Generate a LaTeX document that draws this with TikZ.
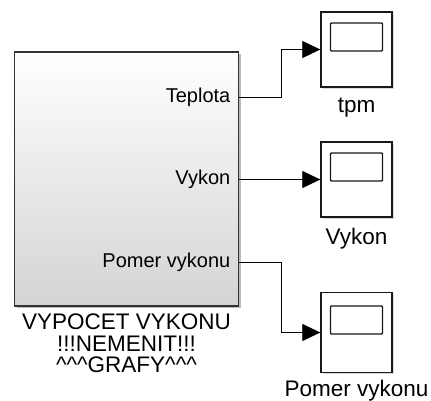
\documentclass[tikz,border=0pt]{standalone}
\usepackage{fontspec}
\setmainfont{Liberation Sans}
\usetikzlibrary{arrows.meta,positioning,shadows}

\begin{document}
\begin{tikzpicture}[
  x=1pt, y=-1pt,
  blk/.style={rectangle, draw=black!80, line width=1.2pt,
    minimum width=224pt, minimum height=254pt, inner sep=0pt,
    top color=white, middle color=white, bottom color=black!17,
    drop shadow={shadow xshift=2pt, shadow yshift=-2pt,
      opacity=0.45, fill=black!60}},
  scopebox/.style={rectangle, draw=black!90, line width=1.4pt,
    fill=white, minimum width=71pt, inner sep=0pt,
    drop shadow={shadow xshift=1.5pt, shadow yshift=-1.5pt,
      opacity=0.3, fill=black!50},
    path picture={\draw[line width=1.4pt, rounded corners=0.8pt]
      ([xshift=-26pt, yshift=-1.5pt]path picture bounding box.center)
      rectangle ([xshift=26pt, yshift=26.5pt]path picture bounding box.center);}},
  port/.style={font=\fontsize{20}{22}\selectfont, anchor=east,
    inner sep=0pt, xshift=-8pt},
  lbl/.style={font=\fontsize{22.5}{24}\selectfont, inner sep=0pt},
  sig/.style={line width=0.8pt, -{Triangle[length=18pt, width=17pt]}}
]
  \useasboundingbox (0,0) rectangle (431,400);

  % main subsystem
  \node[blk] (calc) at (126.5,179) {};
  \coordinate (pTep) at (238.5,97.5);
  \coordinate (pVyk) at (238.5,179.5);
  \coordinate (pPom) at (238.5,262.5);
  \node[port] (tep) at (pTep) {Teplota};
  \node[port] (vyk) at (pVyk) {Vykon};
  \node[port] (pom) at (pPom) {Pomer vykonu};
  \node[font=\fontsize{22.5}{21.5}\selectfont, align=center, anchor=north,
    inner sep=0pt] (calcName) at (126.5,314)
    {VYPOCET VYKONU\\!!!NEMENIT!!!\\\textasciicircum\textasciicircum\textasciicircum GRAFY\textasciicircum\textasciicircum\textasciicircum};

  % scopes
  \node[scopebox, minimum height=75pt] (tpm) at (356.5,49.5) {};
  \node[scopebox, minimum height=75pt] (scVyk) at (356.5,179.5) {};
  \node[scopebox, minimum height=80pt] (scPom) at (356.5,332.5) {};
  \node[lbl, below=10pt of tpm] (tpmName) {tpm};
  \node[lbl, below=10pt of scVyk] (vykName) {Vykon};
  \node[lbl, below=7pt of scPom] (pomName) {Pomer vykonu};

  % signals
  \draw[sig] (pTep) -- ++(42.5,0) |- (tpm.west);
  \draw[sig] (pVyk) -- (scVyk.west);
  \draw[sig] (pPom) -- ++(42.5,0) |- (scPom.west);
\end{tikzpicture}
\end{document}
